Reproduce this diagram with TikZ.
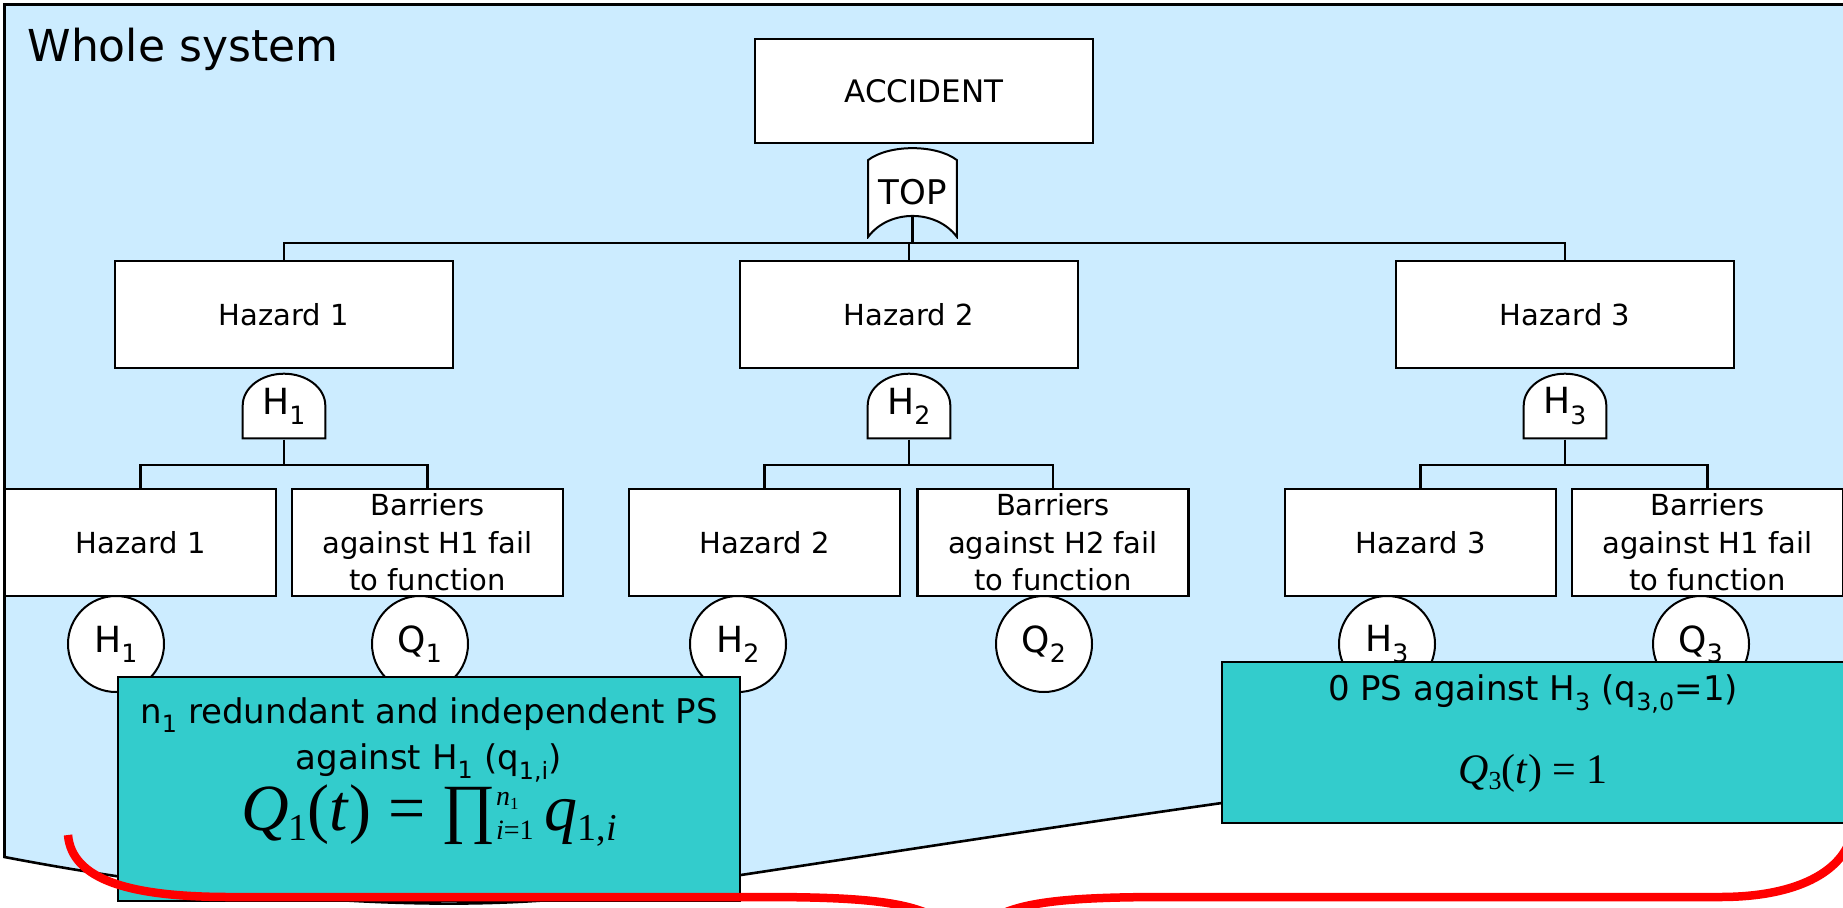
\documentclass[tikz,border=0pt]{standalone}
\usepackage{fontspec}
\setmainfont{DejaVu Sans}
\newfontfamily\eqfont{Liberation Serif}
\usetikzlibrary{positioning}
\definecolor{sky}{HTML}{CCECFF}
\definecolor{pscyan}{HTML}{33CCCC}
\definecolor{bracered}{HTML}{FF0000}
\newcommand\boxfont{\fontsize{29}{37.6}\selectfont}
\newcommand\evfont{\fontsize{36}{40}\selectfont}
\newcommand\psfont{\fontsize{34}{46}\selectfont}
\newcommand\titlefont{\fontsize{44}{50}\selectfont}
% lowered index and stacked product limits for the formulas
\newcommand\lowered[3]{\raisebox{-#1}{\fontsize{#2}{#2}\selectfont #3}}
\newcommand\limstack[2]{\raisebox{-9pt}{\fontsize{28}{34}\selectfont
  \begin{tabular}[b]{@{}l@{}}#1\\#2\end{tabular}}}

\begin{document}
\begin{tikzpicture}[
  x=1pt, y=-1pt,
  every node/.style={font=\boxfont},
  box/.style={draw, line width=2.6pt, fill=white, minimum height=107pt,
              inner sep=0pt, align=center},
  hazbox/.style={box, minimum width=338pt},
  lowbox/.style={box, minimum width=271pt},
  event/.style={draw, circle, line width=2pt, fill=white, minimum size=96pt,
                inner sep=0pt, font=\evfont},
  psbox/.style={draw, line width=2.6pt, fill=pscyan, minimum width=622pt, inner sep=0pt},
  wire/.style={line width=2.4pt},
  panel/.style={draw, line width=2.6pt, fill=sky},
  brace/.style={draw=bracered, line width=8.5pt},
  andgate/.style={minimum width=85pt, minimum height=67pt, inner sep=0pt, font=\evfont,
    path picture={\draw[line width=2pt, fill=white]
      ([shift={(1.2pt,1.2pt)}]path picture bounding box.south west)
      -- ([shift={(1.2pt,-33pt)}]path picture bounding box.north west)
      arc[start angle=180, end angle=0, x radius=41.3pt, y radius=31.8pt]
      -- ([shift={(-1.2pt,1.2pt)}]path picture bounding box.south east) -- cycle;}},
  orgate/.style={minimum width=91pt, minimum height=91pt, inner sep=0pt,
    font=\fontsize{34}{40}\selectfont,
    path picture={\draw[line width=2pt, fill=white]
      ([shift={(1.2pt,1.2pt)}]path picture bounding box.south west)
      -- ([shift={(1.2pt,-13pt)}]path picture bounding box.north west)
      .. controls ([shift={(22pt,2.8pt)}]path picture bounding box.north west)
         and ([shift={(-22pt,2.8pt)}]path picture bounding box.north east) ..
      ([shift={(-1.2pt,-13pt)}]path picture bounding box.north east)
      -- ([shift={(-1.2pt,1.2pt)}]path picture bounding box.south east)
      .. controls ([shift={(-22pt,29pt)}]path picture bounding box.south east)
         and ([shift={(22pt,29pt)}]path picture bounding box.south west) ..
      cycle;}}
]
\useasboundingbox (0,0) rectangle (1843,907);
\clip (0,0) rectangle (1843,907);

% whole system panel
\draw[panel] (4.5,857) -- (4.5,4.5) -- (1900,4.5) -- (1900,720)
  .. controls (1300,780) and (800,870) .. (600,895)
  .. controls (400,920) and (150,885) .. cycle;
\node[font=\titlefont, anchor=base west] (title) at (24,61) {Whole system};

% top event
\node[box, minimum width=338pt, minimum height=104pt, font=\fontsize{31}{37}\selectfont] (acc) at (924,91) {ACCIDENT};
\node[orgate] (gtop) at (912.5,192.5) {TOP};

% hazards
\node[hazbox] (hz1) at (284,314.5) {Hazard 1};
\node[hazbox] (hz2) at (909,314.5) {Hazard 2};
\node[hazbox] (hz3) at (1565,314.5) {Hazard 3};
\draw[wire] ([yshift=23pt]gtop.south) -- ([yshift=-5pt]gtop.south) coordinate (bus0);
\draw[wire] (hz1.north) |- (bus0) -| (hz3.north);
\draw[wire] (bus0) -| (hz2.north);

\node[andgate, below=3pt of hz1] (g1) {H\textsubscript{1}};
\node[andgate, below=3pt of hz2] (g2) {H\textsubscript{2}};
\node[andgate, below=3pt of hz3] (g3) {H\textsubscript{3}};

% hazard and barrier events
\node[lowbox] (src1) at (140.5,542.5) {Hazard 1};
\node[lowbox] (bar1) at (427.5,542.5) {Barriers\\against H1 fail\\to function};
\node[lowbox] (src2) at (764.5,542.5) {Hazard 2};
\node[lowbox] (bar2) at (1053,542.5) {Barriers\\against H2 fail\\to function};
\node[lowbox] (src3) at (1420.5,542.5) {Hazard 3};
\node[lowbox] (bar3) at (1707.5,542.5) {Barriers\\against H1 fail\\to function};
\foreach \i in {1,2,3}{
  \draw[wire] (g\i.south) -- ++(0,25) coordinate (j\i);
  \draw[wire] (src\i.north) |- (j\i) -| (bar\i.north);
}

\node[event] (eh1) at (116,644) {H\textsubscript{1}};
\node[event] (eq1) at (420,644) {Q\textsubscript{1}};
\node[event] (eh2) at (738,644) {H\textsubscript{2}};
\node[event] (eq2) at (1044,644) {Q\textsubscript{2}};
\node[event] (eh3) at (1387,644) {H\textsubscript{3}};
\node[event] (eq3) at (1701,644) {Q\textsubscript{3}};

% protection systems
\node[psbox, minimum height=224pt] (ps1) at (429,789) {};
\node[font=\psfont, align=center] (ps1txt) at (429,740)
  {n\textsubscript{1} redundant and independent PS\\against H\textsubscript{1} (q\textsubscript{1,i})};
\node[font={\eqfont\fontsize{66}{70}\selectfont}] (ps1eq) at (429,816)
  {\textit{Q}\lowered{10pt}{38}{1}(\textit{t}) = ∏\limstack{\textit{n}\lowered{4pt}{17}{1}}{\textit{i}=1}\,\textit{q}\lowered{10pt}{38}{1,\textit{i}}};

\node[psbox, minimum height=161pt] (ps3) at (1533,742.5) {};
\node[font=\psfont] (ps3txt) at (1533,694) {0 PS against H\textsubscript{3} (q\textsubscript{3,0}=1)};
\node[font={\eqfont\fontsize{42}{46}\selectfont}] (ps3eq) at (1533,773)
  {\textit{Q}\lowered{6pt}{26}{3}(\textit{t}) = 1};

% red brace
\draw[brace] (68,835) .. controls (72,880) and (130,897) .. (230,897) -- (760,897)
  .. controls (900,897) and (955,905) .. (965,960)
  .. controls (975,905) and (1030,897) .. (1170,897) -- (1720,897)
  .. controls (1800,897) and (1840,870) .. (1850,840);
\end{tikzpicture}
\end{document}
